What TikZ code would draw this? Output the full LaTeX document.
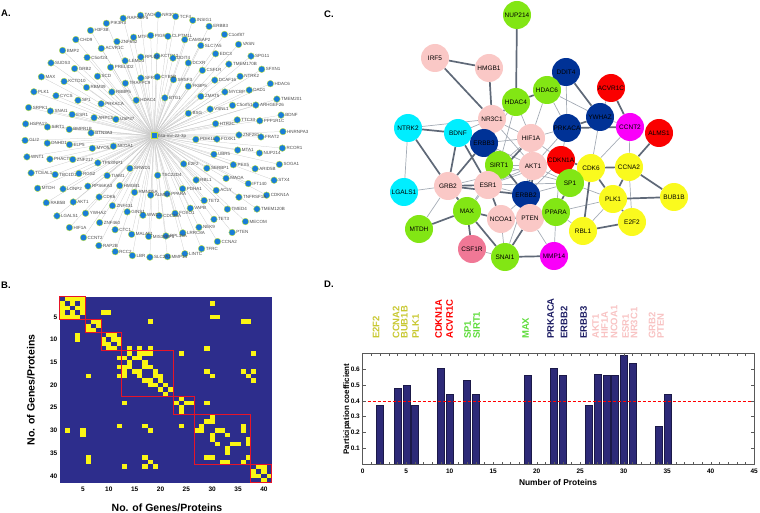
\documentclass[tikz,border=0pt]{standalone}
\usepackage{fontspec}
\setmainfont{Liberation Sans}
\usetikzlibrary{positioning,backgrounds}

\definecolor{gblue}{RGB}{25,125,215}
\definecolor{grim}{RGB}{190,225,60}
\definecolor{matbg}{RGB}{45,45,140}
\definecolor{matyel}{RGB}{250,245,20}
\definecolor{boxred}{RGB}{230,20,40}
\definecolor{cgreen}{RGB}{130,230,20}
\definecolor{cpink}{RGB}{250,200,198}
\definecolor{ccyan}{RGB}{0,238,255}
\definecolor{cnavy}{RGB}{0,50,150}
\definecolor{cred}{RGB}{250,0,0}
\definecolor{cmag}{RGB}{250,0,250}
\definecolor{cyel}{RGB}{250,250,30}
\definecolor{crose}{RGB}{240,120,150}
\definecolor{edgec}{RGB}{95,105,120}
\definecolor{edgel}{RGB}{165,172,182}
\definecolor{barc}{RGB}{45,42,120}
\definecolor{lolive}{RGB}{200,200,50}
\definecolor{lgreen}{RGB}{95,220,60}
\definecolor{lnavy}{RGB}{30,30,100}
\definecolor{lpink}{RGB}{248,195,195}

% one ring of target genes around the miRNA hub
\newcommand\genering[5]{%
  \foreach \g [count=\k] in {#5} {
    \pgfmathsetmacro\ang{#3-360*(\k-1)/#4}
    \node[gnode,label={[glabel]right:\g}] (#1\k) at ({154+#2*cos(\ang)},{136-0.94*#2*sin(\ang)}) {};
    \begin{pgfonlayer}{background}
      \draw[spoke] (hub) -- (#1\k);
    \end{pgfonlayer}
  }}
\newcommand\cellxy[2]{({59.7+(#2-1)*5.17},{296.5+(#1-1)*4.54}) rectangle ++(5.17,4.54)}

\begin{document}
\begin{tikzpicture}[x=1pt,y=-1pt,
    panlab/.style={font=\bfseries\fontsize{9.5}{10}\selectfont,anchor=west,inner sep=0pt},
    gnode/.style={circle,fill=gblue,draw=grim,line width=0.4pt,minimum size=6.6pt,inner sep=0pt},
    glabel/.style={font=\fontsize{4.5}{4.5}\selectfont,text=black!70,inner sep=0.5pt},
    spoke/.style={black!22,line width=0.25pt},
    ticklab/.style={font=\bfseries\fontsize{6.5}{7}\selectfont,inner sep=0pt},
    axtitle/.style={font=\bfseries\fontsize{10.5}{11}\selectfont,inner sep=0pt},
    pnode/.style={circle,minimum size=28pt,inner sep=0pt,font=\fontsize{6.5}{7}\selectfont},
    cthick/.style={edgec,line width=1.7pt},
    cthin/.style={edgel,line width=0.7pt},
    bar/.style={fill=barc,draw=barc!60!black,line width=0.4pt},
    dlab/.style={rotate=90,anchor=west,inner sep=0pt,font=\bfseries\fontsize{9.5}{10}\selectfont}]
\useasboundingbox (0,0) rectangle (760,513);

% ---------- A: miRNA target network
\node[panlab] (labA) at (1,13) {A.};
\node[rectangle,fill=gblue,draw=grim,line width=1pt,minimum size=6pt,inner sep=0pt] (hub) at (154,136) {};
\node[glabel,anchor=west] (hubtxt) at (hub.east) {hsa-mir-22-3p};
\genering{e}{129}{96}{46}{TAOK1,NR3C1,TCF4,INSIG1,ERBB3,C1orf87,VASN,SPG11,SFXN1,HDAC6,TMEM201,BDNF,HNRNPA3,RCOR1,SOGA1,STX4,CDKN1A,TMEM120B,MECOM,PTEN,CCNA2,TFRC,LINTC,MMP14,SLC2A1,LBR,RCC2,RAP2B,CCNT2,HIF1A,LGALS1,RAB5B,MTDH,TCEAL1,WNT1,GLI2,HSPA13,SRPK1,PLK1,MAX,SUDS3,BMP2,CHD9,H3F3B,PIK3R3,RAPGEF5}
\genering{d}{107}{101}{39}{MTFR1,PIGR,CLPTM1L,CAMSAP2,SLC7A5,EDC3,TMEM170B,NTRK2,DAD1,ARHGEF26,PPP1R1C,FRAT2,NUP214,ARID5B,IFT140,TNFRSF1A,TMED4,TET3,NEK9,LRRC8A,RPL35A,MIS18BP1,MALAT1,CTC1,ZNF460,YWHAZ,AKT1,LONP2,TBC1D12,PHACTR4,DNHD1,SIRT1,SNAI1,CYCS,KCTD10,GRB2,C5orf24,ACVR1C,ZNF652}
\genering{c}{85}{88}{33}{KCTD12,DDIT4,DCXR,CSF1R,DCAF16,MYCBP,C5orf51,TTC33,ZNF281,MTA1,PEX5,MAOA,ACLY,TET2,VAPB,FOXO1,CDC25A,WWC1,GINS1,ZNF431,CDK6,RPS6KA3,RGS2,ZNF217,ELP5,BMPR1B,ESR1,SP1,RBM39,SCD,PRELID2,LEMD3,RPL24}
\genering{b}{63}{72}{24}{SRSF3,FKBP5,ZMAT5,VSNL1,HTR2C,FOXK1,UBR5,SERBP1,RBL1,PDHA1,PPARA,ALMS1,RMND5A,HMGB1,TIAM1,TP53INP1,MYO5A,BTN3A3,ARPC5,PRKACA,RBBP5,TRAPPC9,SFRS2,CYB5B}
\genering{a}{42}{115}{9}{HDAC4,BTG1,BSG,PDIK1L,E2F2,TSC22D4,SRWD1,NCOA1,USP37}

% ---------- B: module matrix
\node[panlab] (labB) at (1,285) {B.};
\fill[matbg] (59.7,296.5) rectangle (271.7,482.6);
\foreach \i/\j in {1/2,1/3,1/4,1/5,2/3,2/5,3/4,3/5,4/5,6/7,6/8,7/8,9/10,9/11,10/11,10/12,11/12,
    13/14,13/16,13/17,13/18,14/15,14/16,15/17,16/17,16/18,17/19,18/19,18/20,19/20,20/21,21/22,
    23/24,24/25,24/26,27/30,28/29,28/30,30/31,30/32,31/33,33/34,33/35,29/36,30/36,32/37,33/37,36/37,
    38/39,39/40,40/41,38/40,4/9,4/10,2/30,5/30,5/31,6/36,6/37,6/18,12/14,12/16,12/18,12/29,13/24,
    13/38,17/29,18/30,17/36,17/38,18/37,19/38,24/29}
  {\fill[matyel] \cellxy{\i}{\j}; \fill[matyel] \cellxy{\j}{\i};}
\foreach \s/\e in {1/5,6/8,9/12,13/22,23/26,27/37,38/41}
  \draw[boxred,line width=1pt] ({59.7+(\s-1)*5.17},{296.5+(\s-1)*4.54}) rectangle ({59.7+\e*5.17},{296.5+\e*4.54});
\foreach \t in {5,10,...,40} {
  \node[ticklab] (bx\t) at ({57.1+5.17*\t},489) {\t};
  \node[ticklab,anchor=east] (by\t) at (57.5,{294.2+4.54*\t}) {\t};
}
\node[axtitle] (bxlab) at (167,508) {No. of Genes/Proteins};
\node[axtitle,rotate=90] (bylab) at (31,390) {No. of Genes/Proteins};

% ---------- C: protein network
\node[panlab] (labC) at (324,14) {C.};
\node[pnode,fill=cgreen] (NUP214) at (517,15) {NUP214};
\node[pnode,fill=cpink] (IRF5) at (435,58) {IRF5};
\node[pnode,fill=cpink] (HMGB1) at (489,68) {HMGB1};
\node[pnode,fill=cnavy] (DDIT4) at (566,72) {DDIT4};
\node[pnode,fill=cgreen] (HDAC6) at (547,90) {HDAC6};
\node[pnode,fill=cgreen] (HDAC4) at (516,102) {HDAC4};
\node[pnode,fill=cred] (ACVR1C) at (611,88) {ACVR1C};
\node[pnode,fill=cnavy] (YWHAZ) at (600,117) {YWHAZ};
\node[pnode,fill=cmag] (CCNT2) at (630,127) {CCNT2};
\node[pnode,fill=cred] (ALMS1) at (659,133) {ALMS1};
\node[pnode,fill=cnavy] (PRKACA) at (567,128) {PRKACA};
\node[pnode,fill=cpink] (NR3C1) at (492,119) {NR3C1};
\node[pnode,fill=ccyan] (NTRK2) at (408,128) {NTRK2};
\node[pnode,fill=ccyan] (BDNF) at (458,133) {BDNF};
\node[pnode,fill=cnavy] (ERBB3) at (484,143) {ERBB3};
\node[pnode,fill=cpink] (HIF1A) at (531,138) {HIF1A};
\node[pnode,fill=cgreen] (SIRT1) at (499,165) {SIRT1};
\node[pnode,fill=cpink] (AKT1) at (533,166) {AKT1};
\node[pnode,fill=cred] (CDKN1A) at (561,160) {CDKN1A};
\node[pnode,fill=cyel] (CDK6) at (591,168) {CDK6};
\node[pnode,fill=cyel] (CCNA2) at (629,167) {CCNA2};
\node[pnode,fill=ccyan] (LGALS1) at (404,192) {LGALS1};
\node[pnode,fill=cpink] (GRB2) at (448,186) {GRB2};
\node[pnode,fill=cpink] (ESR1) at (488,185) {ESR1};
\node[pnode,fill=cgreen] (SP1) at (570,183) {SP1};
\node[pnode,fill=cnavy] (ERBB2) at (526,195) {ERBB2};
\node[pnode,fill=cyel] (PLK1) at (613,199) {PLK1};
\node[pnode,fill=cyel] (BUB1B) at (674,197) {BUB1B};
\node[pnode,fill=cgreen] (MAX) at (467,211) {MAX};
\node[pnode,fill=cpink] (NCOA1) at (501,219) {NCOA1};
\node[pnode,fill=cpink] (PTEN) at (530,218) {PTEN};
\node[pnode,fill=cgreen] (PPARA) at (556,212) {PPARA};
\node[pnode,fill=cyel] (E2F2) at (632,222) {E2F2};
\node[pnode,fill=cyel] (RBL1) at (583,231) {RBL1};
\node[pnode,fill=cgreen] (MTDH) at (419,229) {MTDH};
\node[pnode,fill=crose] (CSF1R) at (472,249) {CSF1R};
\node[pnode,fill=cgreen] (SNAI1) at (505,257) {SNAI1};
\node[pnode,fill=cmag] (MMP14) at (554,256) {MMP14};
\begin{pgfonlayer}{background}
\foreach \a/\b in {NTRK2/LGALS1,LGALS1/GRB2,NR3C1/NTRK2,NR3C1/BDNF,MTDH/GRB2,DDIT4/HDAC6,DDIT4/PRKACA,
    ACVR1C/YWHAZ,YWHAZ/CCNT2,YWHAZ/CDK6,PRKACA/CDKN1A,PRKACA/AKT1,PRKACA/HIF1A,HDAC6/HIF1A,HDAC6/PRKACA,
    HDAC4/SIRT1,HDAC4/HIF1A,HDAC4/ERBB3,NR3C1/HIF1A,NR3C1/SIRT1,NR3C1/AKT1,ERBB3/AKT1,ERBB3/BDNF,
    ERBB3/HIF1A,HIF1A/SIRT1,HIF1A/CDKN1A,HIF1A/ERBB2,AKT1/ESR1,AKT1/SIRT1,AKT1/SP1,AKT1/GRB2,CDKN1A/SP1,
    CDKN1A/PPARA,CDKN1A/ESR1,CDKN1A/ERBB2,ESR1/ERBB2,ESR1/SP1,ERBB2/SP1,ERBB2/NCOA1,PTEN/NCOA1,PTEN/PPARA,
    NCOA1/PPARA,SIRT1/MAX,SIRT1/SP1,SP1/CDK6,SP1/PLK1,CCNA2/E2F2,RBL1/PLK1,CCNT2/CCNA2,CCNT2/CDK6,
    PPARA/MMP14,PPARA/RBL1,PTEN/MMP14,SNAI1/NCOA1,SNAI1/ERBB2,CSF1R/SNAI1,PLK1/PPARA,MAX/ESR1,HDAC6/YWHAZ}
  \draw[cthin] (\a) -- (\b);
\foreach \a/\b in {IRF5/HMGB1,IRF5/NR3C1,HMGB1/NR3C1,NUP214/HDAC4,HDAC4/HDAC6,HDAC4/NR3C1,NTRK2/BDNF,
    NTRK2/GRB2,BDNF/ESR1,BDNF/GRB2,GRB2/ESR1,GRB2/MAX,GRB2/ERBB2,MAX/MTDH,MAX/CSF1R,MAX/SNAI1,MAX/NCOA1,
    ESR1/NCOA1,SNAI1/MMP14,SNAI1/PTEN,ERBB3/ERBB2,ERBB3/GRB2,HIF1A/AKT1,AKT1/CDKN1A,AKT1/ERBB2,AKT1/PTEN,
    CDKN1A/CDK6,CDK6/CCNA2,CDK6/PLK1,CCNA2/PLK1,CCNA2/BUB1B,PLK1/BUB1B,PLK1/E2F2,E2F2/RBL1,ALMS1/CCNA2,
    DDIT4/YWHAZ,YWHAZ/PRKACA,PRKACA/CCNT2,ACVR1C/CCNT2,CDK6/RBL1,SP1/PPARA,ERBB2/PTEN,HIF1A/ESR1,SIRT1/ESR1}
  \draw[cthick] (\a) -- (\b);
\end{pgfonlayer}

% ---------- D: participation coefficient
\node[panlab] (labD) at (324,284) {D.};
\foreach \x/\n/\c in {376/E2F2/lolive,396/CCNA2/lolive,404.5/BUB1B/lolive,415.5/PLK1/lolive,
    438.5/CDKN1A/red,449.5/ACVR1C/red,467.5/SP1/lgreen,476.5/SIRT1/lgreen,525.5/MAX/lgreen,
    550.5/PRKACA/lnavy,564/ERBB2/lnavy,583.5/ERBB3/lnavy,595.5/AKT1/lpink,604.5/HIF1A/lpink,
    614/NCOA1/lpink,625.5/ESR1/lpink,634/NR3C1/lpink,652/GRB2/lpink,660.5/PTEN/lpink}
  \node[dlab,text=\c] (t\n) at (\x,339) {\n};
\foreach \p/\v in {2/0.37,4/0.48,5/0.50,6/0.37,9/0.61,10/0.44,12/0.53,13/0.44,19/0.56,22/0.61,23/0.56,
    26/0.37,27/0.57,28/0.56,29/0.56,30/0.69,31/0.64,34/0.24,35/0.44}
  \draw[bar] ({362.7+8.7*\p-3.5},464) rectangle ({362.7+8.7*\p+3.5},{464-157.7*\v});
\draw[red,dash pattern=on 3pt off 2pt,line width=0.8pt] (362.7,400.9) -- (754.3,400.9);
\draw[black!65,line width=0.5pt] (362.7,353.6) rectangle (754.3,464);
\foreach \i in {1,...,44} {
  \draw[black!65,line width=0.4pt] ({362.7+8.7*\i},464) -- ++(0,-2.2);
  \draw[black!65,line width=0.4pt] ({362.7+8.7*\i},353.6) -- ++(0,2.2);
}
\foreach \v in {1,...,6} {
  \draw[black!65,line width=0.4pt] (362.7,{464-15.77*\v}) -- ++(3,0);
  \draw[black!65,line width=0.4pt] (754.3,{464-15.77*\v}) -- ++(-3,0);
  \node[ticklab,anchor=east] (dy\v) at (360,{464-15.77*\v}) {0.\v};
}
\foreach \t in {0,5,...,45}
  \node[ticklab] (dx\t) at ({362.7+8.7*\t},471) {\t};
\node[font=\bfseries\fontsize{8.4}{9}\selectfont,inner sep=0pt] (dxlab) at (558,482) {Number of Proteins};
\node[font=\bfseries\fontsize{8}{9}\selectfont,inner sep=0pt,rotate=90] (dylab) at (347,409) {Participation coefficient};
\end{tikzpicture}
\end{document}
